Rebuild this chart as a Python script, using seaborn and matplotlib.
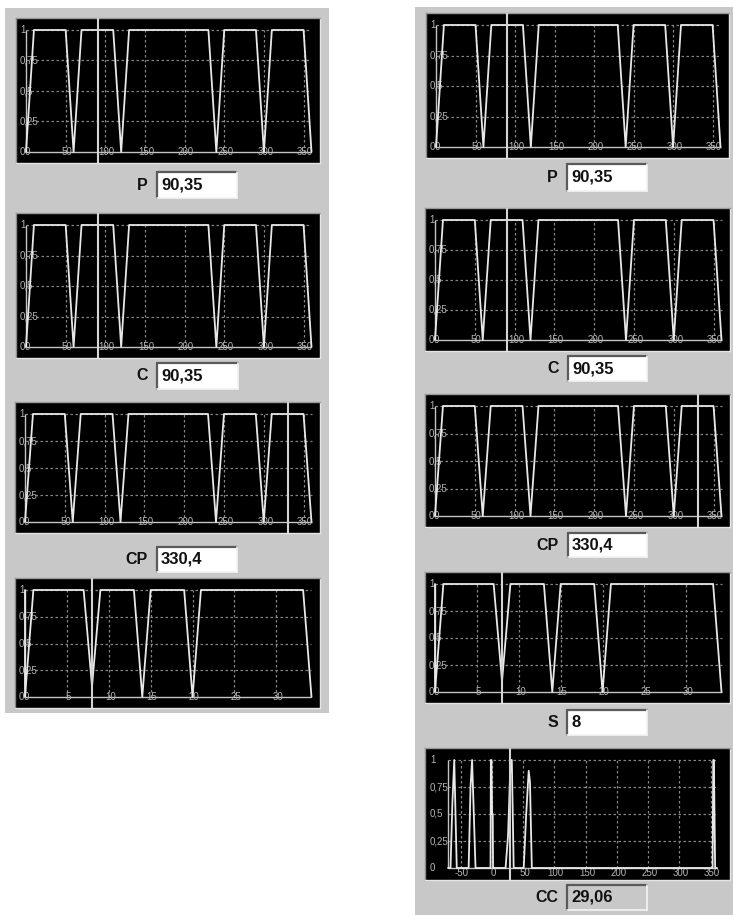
import matplotlib
matplotlib.use("Agg")
import matplotlib.pyplot as plt
import seaborn as sns
from matplotlib.patches import Rectangle
from matplotlib.lines import Line2D

# Membership curves
hue_x = [0, 10, 50, 60, 70, 110, 120, 130, 230, 240, 250, 290, 300, 310, 350, 360]
p_vals = [0, 1, 1, 0, 1, 1, 0, 1, 1, 0, 1, 1, 0, 1, 1, 0]
c_vals = [0, 1, 1, 0, 1, 1, 0, 1, 1, 0, 1, 1, 0, 1, 1, 0]
cp_vals = [0, 1, 1, 0, 1, 1, 0, 1, 1, 0, 1, 1, 0, 1, 1, 0]

s_x = [0, 0, 1, 7, 8, 9, 13, 14, 15, 19, 20, 21, 33.2, 34.2]
s_vals = [1, 0, 1, 1, 0.1, 1, 1, 0, 1, 1, 0, 1, 1, 0]

cc_x = [-70, -66, -63, -60, -56, -37, -34, -31.5, -26, -2, -1.5, -0.5, 0.5, 1.5, 2,
        22, 26, 28, 30, 32, 35, 51, 55, 59, 61, 64, 353, 354, 355, 356, 357, 360]
cc_vals = [0, 0, 0.6, 1, 0, 0, 0.75, 1, 0, 0, 1, 1, 0.5, 0.5, 0,
           0, 0.3, 0.65, 1, 1, 0, 0, 0.5, 0.9, 0.8, 0, 0, 1, 1, 0.5, 0, 0]

hue_ticks = [0, 50, 100, 150, 200, 250, 300, 350]
s_ticks = [0, 5, 10, 15, 20, 25, 30]
cc_ticks = [-50, 0, 50, 100, 150, 200, 250, 300, 350]
y_ticks = [0, 0.25, 0.5, 0.75, 1]
y_labels = ["0", "0,25", "0,5", "0,75", "1"]

p_cursor, c_cursor, cp_cursor, s_cursor, cc_cursor = 90.35, 90.35, 330.4, 8, 29.06
p_text, c_text, cp_text, s_text, cc_text = "90,35", "90,35", "330,4", "8", "29,06"

W, H = 733, 915
PANEL = "#c8c8c8"
LINE = "#e8e8e8"
GRID = "#858585"
TICK = "#b4b4b4"

sns.set_style("white")
plt.rcParams["font.family"] = ["Liberation Sans", "DejaVu Sans"]

fig = plt.figure(figsize=(W / 100, H / 100), dpi=100)
fig.patch.set_facecolor("white")


def px_rect(l, t, r, b):
    return [l / W, 1 - b / H, (r - l) / W, (b - t) / H]


def add_rect(l, t, r, b, color):
    fig.add_artist(Rectangle((l / W, 1 - b / H), (r - l) / W, (b - t) / H,
                             transform=fig.transFigure, facecolor=color,
                             edgecolor="none", zorder=0))


def add_line(x0, y0, x1, y1, color, lw):
    fig.add_artist(Line2D([x0 / W, x1 / W], [1 - y0 / H, 1 - y1 / H],
                          transform=fig.transFigure, color=color, lw=lw, zorder=3))


def plot_box(box, x, y, x0, x1, xticks, cursor, ml=10, mr=8.5, mt=12, mb=11,
             lab_dx=4, xlab_dy=0):
    l, t, r, b = box
    ax = fig.add_axes(px_rect(l, t, r, b))
    ax.set_facecolor("black")
    ppx = (r - l - ml - mr) / (x1 - x0)
    ppy = (b - t - mt - mb)
    ax.set_xlim(x0 - ml / ppx, x1 + mr / ppx)
    ax.set_ylim(-mb / ppy, 1 + mt / ppy)
    ax.set_xticks([])
    ax.set_yticks([])
    for side, col in [("top", "#9a9a9a"), ("left", "#8a8a8a"),
                      ("bottom", "#e4e4e4"), ("right", "#e4e4e4")]:
        ax.spines[side].set_color(col)
        ax.spines[side].set_linewidth(1.0)
    # dashed grid inside data area
    gx = [v for v in xticks if v != x0 and not (x0 == 0 and v == 0)]
    ax.vlines(gx, 0, 1, colors=GRID, linestyles=(0, (2, 2)), lw=0.9, zorder=1)
    ax.hlines([0.25, 0.5, 0.75, 1], x0, x1, colors=GRID,
              linestyles=(0, (2, 2)), lw=0.9, zorder=1)
    # axis lines
    ax.hlines(0, x0, x1, colors="#c4c4c4", lw=1.0, zorder=2)
    ax.vlines(x0, 0, 1, colors="#c4c4c4", lw=1.0, zorder=2)
    # tick labels drawn inside the plot
    ylx = ax.get_xlim()[0] + lab_dx / ppx
    for v, s in zip(y_ticks, y_labels):
        ax.text(ylx, v, s, ha="left", va="center", fontsize=7, color=TICK, zorder=2)
    for v in xticks:
        ax.text(v + 1.5 / ppx, -xlab_dy / ppy, str(v), ha="center", va="center",
                fontsize=7, color=TICK, zorder=2)
    sns.lineplot(x=x, y=y, ax=ax, color=LINE, linewidth=1.3, estimator=None,
                 sort=False, legend=False, zorder=4)
    ax.axvline(cursor, color="#d4d4d4", lw=1.5, zorder=5)
    ax.set_xlabel("")
    ax.set_ylabel("")
    return ax


def text_box(box, label, value, fill="white"):
    l, t, r, b = box
    add_rect(l, t, r, b, fill)
    add_line(l, t, r, t, "#5a5a5a", 1.6)
    add_line(l, t, l, b, "#5a5a5a", 1.6)
    add_line(l, b, r, b, "#f4f4f4", 1.2)
    add_line(r, t, r, b, "#f4f4f4", 1.2)
    cy = 1 - (t + b) / 2 / H
    fig.text((l - 9) / W, cy, label, ha="right", va="center", fontsize=11.5,
             fontweight="bold", color="#111111")
    fig.text((l + 4) / W, cy, value, ha="left", va="center", fontsize=12,
             fontweight="bold", color="#111111")


# gray window panels
add_rect(5, 8, 329, 713, PANEL)
add_rect(415, 7, 733, 915, PANEL)

# left column
plot_box((16, 18, 320, 163), hue_x, p_vals, 0, 360, hue_ticks, p_cursor)
text_box((157, 172, 237, 198), "P", p_text)
plot_box((16, 213, 320, 358), hue_x, c_vals, 0, 360, hue_ticks, c_cursor)
text_box((157, 363, 238, 389), "C", c_text)
plot_box((15, 402, 320, 533), hue_x, cp_vals, 0, 360, hue_ticks, cp_cursor)
text_box((157, 547, 237, 572), "CP", cp_text)
plot_box((15, 578, 320, 708), s_x, s_vals, 0, 34.2, s_ticks, s_cursor)

# right column
plot_box((426, 13, 729, 158), hue_x, p_vals, 0, 360, hue_ticks, p_cursor)
text_box((567, 164, 647, 191), "P", p_text)
plot_box((425, 208, 730, 351), hue_x, c_vals, 0, 360, hue_ticks, c_cursor)
text_box((568, 356, 647, 381), "C", c_text)
plot_box((425, 394, 730, 527), hue_x, cp_vals, 0, 360, hue_ticks, cp_cursor)
text_box((568, 533, 647, 557), "CP", cp_text)
plot_box((425, 572, 730, 703), s_x, s_vals, 0, 34.2, s_ticks, s_cursor)
text_box((567, 710, 647, 735), "S", s_text)
plot_box((425, 748, 730, 880), cc_x, cc_vals, -70, 360, cc_ticks, cc_cursor,
         ml=23, mr=13, mt=12, mb=12, lab_dx=5, xlab_dy=5)
text_box((567, 885, 647, 910), "CC", cc_text, fill=PANEL)

fig.savefig("out.png", dpi=100, facecolor="white")
